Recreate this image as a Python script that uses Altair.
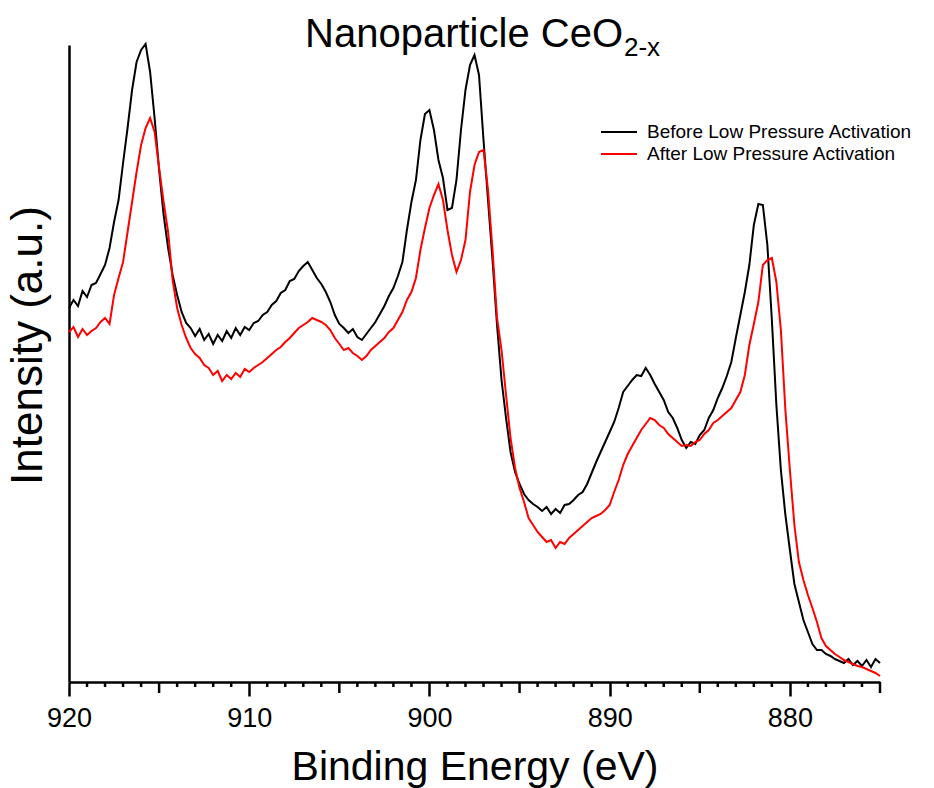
import altair as alt
import pandas as pd

FONT = "Liberation Sans"

# Binding energy grid (eV), 0.25 eV steps from 920 down to 875
energy = [round(920 - 0.25 * i, 2) for i in range(181)]

# Before low pressure activation (black), a.u.
before = [
    372, 380, 374, 389,
    383, 395, 397, 406,
    415, 432, 458, 480,
    517, 552, 590, 618,
    630, 636, 608, 562,
    510, 465, 432, 405,
    385, 368, 357, 352,
    344, 351, 340, 346,
    336, 345, 339, 349,
    342, 352, 345, 353,
    350, 357, 359, 365,
    368, 375, 379, 387,
    390, 399, 401, 409,
    414, 418, 410, 402,
    396, 388, 378, 365,
    356, 352, 347, 351,
    343, 340, 346, 352,
    358, 366, 374, 384,
    392, 404, 418, 450,
    478, 500, 540, 566,
    570, 550, 520, 502,
    470, 472, 500, 550,
    590, 615, 625, 605,
    540, 480, 420, 355,
    300, 262, 228, 208,
    196, 186, 180, 176,
    173, 169, 173, 166,
    171, 167, 175, 176,
    180, 185, 188, 196,
    207, 218, 228, 238,
    248, 258, 272, 288,
    294, 300, 305, 304,
    312, 305, 296, 288,
    280, 268, 262, 252,
    240, 232, 238, 236,
    245, 250, 262, 270,
    282, 292, 304, 318,
    342, 365, 388, 415,
    455, 476, 475, 435,
    360, 275, 210, 165,
    130, 96, 78, 60,
    48, 36, 30, 30,
    26, 24, 21, 19,
    17, 21, 15, 19,
    14, 20, 13, 21,
    17,
]

# After low pressure activation (red), a.u.
after = [
    348, 353, 343, 351,
    345, 349, 352, 358,
    362, 356, 385, 402,
    418, 448, 478, 508,
    535, 552, 562, 548,
    512, 478, 448, 400,
    372, 355, 342, 332,
    326, 322, 315, 312,
    305, 309, 299, 305,
    301, 307, 303, 311,
    308, 312, 315, 318,
    322, 326, 330, 333,
    338, 342, 347, 352,
    355, 358, 362, 360,
    358, 355, 350, 342,
    336, 330, 332, 327,
    324, 320, 324, 330,
    334, 338, 342, 348,
    352, 360, 368, 380,
    388, 402, 430, 452,
    472, 485, 496, 480,
    450, 425, 408, 420,
    440, 488, 515, 528,
    530, 490, 430, 362,
    330, 285, 242, 212,
    192, 178, 162, 155,
    148, 143, 138, 140,
    132, 138, 136, 142,
    146, 150, 154, 158,
    162, 164, 166, 170,
    175, 188, 200, 215,
    226, 234, 242, 250,
    256, 262, 260, 255,
    252, 246, 242, 238,
    234, 235, 234, 238,
    240, 246, 250, 257,
    260, 264, 268, 272,
    280, 288, 305, 335,
    356, 378, 415, 420,
    422, 398, 350, 270,
    210, 155, 118, 100,
    85, 72, 58, 42,
    34, 30, 26, 23,
    20, 18, 16, 14,
    13, 11, 9, 7,
    4,
]

series_names = ["Before Low Pressure Activation", "After Low Pressure Activation"]
series_colors = ["#000000", "#ff0000"]

major_ticks = [920, 910, 900, 890, 880]
mid_ticks = [915, 905, 895, 885, 875]
minor_ticks = [e for e in range(876, 920) if e % 5 != 0]

title_main = ["Nanoparticle CeO"]
title_sub = ["2-x"]

assert len(before) == len(energy) and len(after) == len(energy)

df = pd.DataFrame({
    "energy": energy + energy,
    "intensity": before + after,
    "series": [series_names[0]] * len(energy) + [series_names[1]] * len(energy),
})

W, H = 811, 637

x_enc = alt.X(
    "energy:Q",
    scale=alt.Scale(domain=[875, 920], reverse=True, nice=False, zero=False),
    axis=alt.Axis(
        values=major_ticks, format="d", tickSize=14, tickWidth=2.5, tickColor="black",
        domainWidth=2.5, domainColor="black", labelFontSize=27, labelFont=FONT,
        labelColor="black", labelPadding=9, labelFlush=False, grid=False,
        title="Binding Energy (eV)", titleFontSize=41, titleFont=FONT,
        titleFontWeight="normal", titleColor="black", titlePadding=16,
    ),
)

lines = alt.Chart(df).mark_line(strokeWidth=2).encode(
    x=x_enc,
    y=alt.Y(
        "intensity:Q",
        scale=alt.Scale(domain=[-2, 635], nice=False, zero=False),
        axis=alt.Axis(
            ticks=False, labels=False, grid=False, domainWidth=2.5, domainColor="black",
            title="Intensity (a.u.)", titleFontSize=44, titleFont=FONT,
            titleFontWeight="normal", titleColor="black", titlePadding=19,
            titleY=300,
        ),
    ),
    color=alt.Color(
        "series:N",
        sort=series_names,
        scale=alt.Scale(domain=series_names, range=series_colors),
        legend=alt.Legend(
            orient="none", legendX=531, legendY=76, title=None,
            symbolType="stroke", symbolSize=1296, symbolStrokeWidth=2,
            labelFontSize=19, labelFont=FONT, labelColor="black", labelLimit=500,
            clipHeight=22, rowPadding=0, labelOffset=9, padding=0,
        ),
    ),
)

mid = alt.Chart(pd.DataFrame({"energy": mid_ticks})).mark_rule(
    color="black", strokeWidth=2.5
).encode(x=x_enc, y=alt.value(H), y2=alt.value(H + 11))

minor = alt.Chart(pd.DataFrame({"energy": minor_ticks})).mark_rule(
    color="black", strokeWidth=2.5
).encode(x=x_enc, y=alt.value(H), y2=alt.value(H + 5))

t_main = alt.Chart(pd.DataFrame({"t": title_main})).mark_text(
    align="right", baseline="alphabetic", fontSize=40, font=FONT, color="black"
).encode(x=alt.value(554), y=alt.value(2), text="t:N")

t_sub = alt.Chart(pd.DataFrame({"t": title_sub})).mark_text(
    align="left", baseline="alphabetic", fontSize=26, font=FONT, color="black"
).encode(x=alt.value(555), y=alt.value(11), text="t:N")

chart = alt.layer(mid, minor, lines, t_main, t_sub).properties(
    width=W, height=H,
    autosize=alt.AutoSizeParams(type="none"),
    padding={"left": 69, "top": 45, "right": 54, "bottom": 106},
    background="white",
).configure_view(stroke=None)

chart.save("out.html", embed_options={"renderer": "svg", "actions": False})
